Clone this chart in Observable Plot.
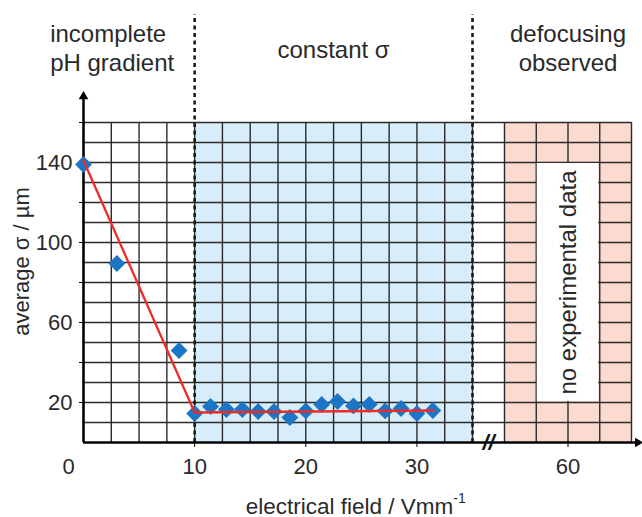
<!DOCTYPE html>
<html><head><meta charset="utf-8">
<script src="https://cdn.jsdelivr.net/npm/d3@7"></script>
<script src="https://cdn.jsdelivr.net/npm/@observablehq/plot@0.6"></script>
<style>body{margin:0;background:#fff}</style>
</head><body><div id="chart"></div>
<script>
// measured data
const fieldX = [0, 3, 8.6, 10, 11.43, 12.86, 14.29, 15.71, 17.14, 18.57, 20, 21.43, 22.86, 24.29, 25.71, 27.14, 28.57, 30, 31.43];
const sigmaY = [139, 89.5, 46, 14.5, 18, 16.5, 16.5, 15.5, 15.5, 12.5, 15.8, 19, 20.5, 18.3, 19, 15.8, 17, 14.5, 16];
const fitX = [0, 10, 31.5];
const fitY = [141, 15, 16];
// ticks and grid
const xTickValues = [10, 20, 30, 60];
const yTickMarks = [20, 40, 60, 80, 100, 120, 140, 160];
const yTickLabels = [20, 60, 100, 140];
const xGrid = [0, 2.5, 5, 7.5, 10, 12.5, 15, 17.5, 20, 22.5, 25, 27.5, 30, 32.5, 35, 55, 57.5, 60, 62.5, 65];
const yGrid = [10, 20, 30, 40, 50, 60, 70, 80, 90, 100, 110, 120, 130, 140, 150, 160];
// regions
const regionBounds = [10, 35, 55, 65];
const dividerX = [10, 35];
const regionLabels = ["incomplete\npH gradient", "constant σ", "defocusing\nobserved"];
const xLabel = "electrical field / Vmm";
const yLabel = "average σ / µm";
const noDataLabel = "no experimental data";

const W = 642, H = 517, mL = 83, mR = 11, mT = 122, mB = 75;
const FONT = "Liberation Sans, Arial, Helvetica, sans-serif";
const INK = "#2a2a2a";

const pts = fieldX.map((x, i) => ({x, y: sigmaY[i]}));
const fit = fitX.map((x, i) => ({x, y: fitY[i]}));

const plot = Plot.plot({
  width: W, height: H,
  marginLeft: mL, marginRight: mR, marginTop: mT, marginBottom: mB,
  style: {fontFamily: FONT, fontSize: "22px", color: INK, background: "#fff"},
  x: {type: "linear", domain: [0, 35, 55, 65], range: [mL, 472, 504, W - mR], axis: null},
  y: {type: "linear", domain: [0, 160], axis: null},
  marks: [
    Plot.rect([{a: regionBounds[0], b: regionBounds[1]}], {x1: "a", x2: "b", y1: 0, y2: 160, fill: "#d7eefa"}),
    Plot.rect([{a: regionBounds[2], b: regionBounds[3]}], {x1: "a", x2: "b", y1: 0, y2: 160, fill: "#fbdbcf"}),
    Plot.ruleY(yGrid, {x1: 0, x2: 65, stroke: "#2a2a2a", strokeWidth: 1.4}),
    Plot.ruleX(xGrid, {y1: 0, y2: 160, stroke: "#2a2a2a", strokeWidth: 1.4}),
    Plot.rect([{a: 57.5, b: 62.5}], {x1: "a", x2: "b", y1: 20, y2: 140, fill: "#fff", inset: 1}),
    Plot.text([noDataLabel], {x: 60, y: 80, text: d => d, rotate: -90, fontSize: 24, fill: INK}),
    Plot.ruleX(dividerX, {y1: 0, y2: 214, stroke: "#1a1a1a", strokeWidth: 2.6, strokeDasharray: "4,3.5"}),
    // region labels
    Plot.text([regionLabels[0]], {x: -3, y: 186, text: d => d, textAnchor: "start", lineAnchor: "bottom", lineHeight: 1.17, fontSize: 24, fill: INK}),
    Plot.text([regionLabels[1]], {x: 22.5, y: 192.5, text: d => d, lineAnchor: "bottom", fontSize: 24, fill: INK}),
    Plot.text([regionLabels[2]], {x: 60, y: 186, text: d => d, lineAnchor: "bottom", lineHeight: 1.17, fontSize: 24, fill: INK}),
    // axis lines with arrows
    Plot.ruleX([0], {y1: 0, y2: 172, stroke: "#000", strokeWidth: 2.5}),
    Plot.ruleY([0], {x1: 0, x2: 65.5, stroke: "#000", strokeWidth: 2.5}),
    Plot.dot([{x: 0, y: 173}], {x: "x", y: "y", symbol: "triangle", r: 3.6, fill: "#000"}),
    Plot.dot([{x: 65.5, y: 0}], {x: "x", y: "y", symbol: "triangle", r: 3.6, fill: "#000", rotate: 90}),
    Plot.text(["//"], {x: 45, y: 0, text: d => d, fontSize: 22, fontWeight: "bold", fill: "#111", fontStyle: "italic"}),
    // ticks
    Plot.axisY({ticks: yTickMarks, tickFormat: () => "", tickSize: 4, stroke: "#000", label: null}),
    Plot.axisY({ticks: yTickLabels, tickSize: 0, tickPadding: 11, fontSize: 22, fill: INK, label: null}),
    Plot.axisX({ticks: xTickValues, tickSize: 5, tickPadding: 11, fontSize: 22, fill: INK, stroke: "#000", label: null}),
    Plot.axisX({ticks: [0], tickSize: 0, tickPadding: 16, dx: -15, fontSize: 22, fill: INK, label: null}),
    // axis labels
    Plot.text([yLabel], {x: -5.5, y: 90.5, text: d => d, rotate: -90, fontSize: 22, fill: INK}),
    Plot.text([xLabel], {x: 24.5, y: -35.5, text: d => d, lineAnchor: "bottom", fontSize: 22.5, fill: INK}),
    // data
    Plot.dot(pts, {x: "x", y: "y", symbol: "diamond2", r: 7.6, fill: "#1c76c5"}),
    Plot.line(fit, {x: "x", y: "y", stroke: "#ee2b24", strokeWidth: 2.3})
  ]
});

d3.select(plot).selectAll("text").filter(function() { return this.textContent === xLabel; })
  .each(function() {
    const t = d3.select(this);
    const tgt = t.select("tspan").empty() ? t : t.select("tspan");
    tgt.append("tspan").attr("font-size", "14px").attr("dy", "-0.75em").text("-1");
  });

document.getElementById("chart").appendChild(plot);
</script>
</body></html>
